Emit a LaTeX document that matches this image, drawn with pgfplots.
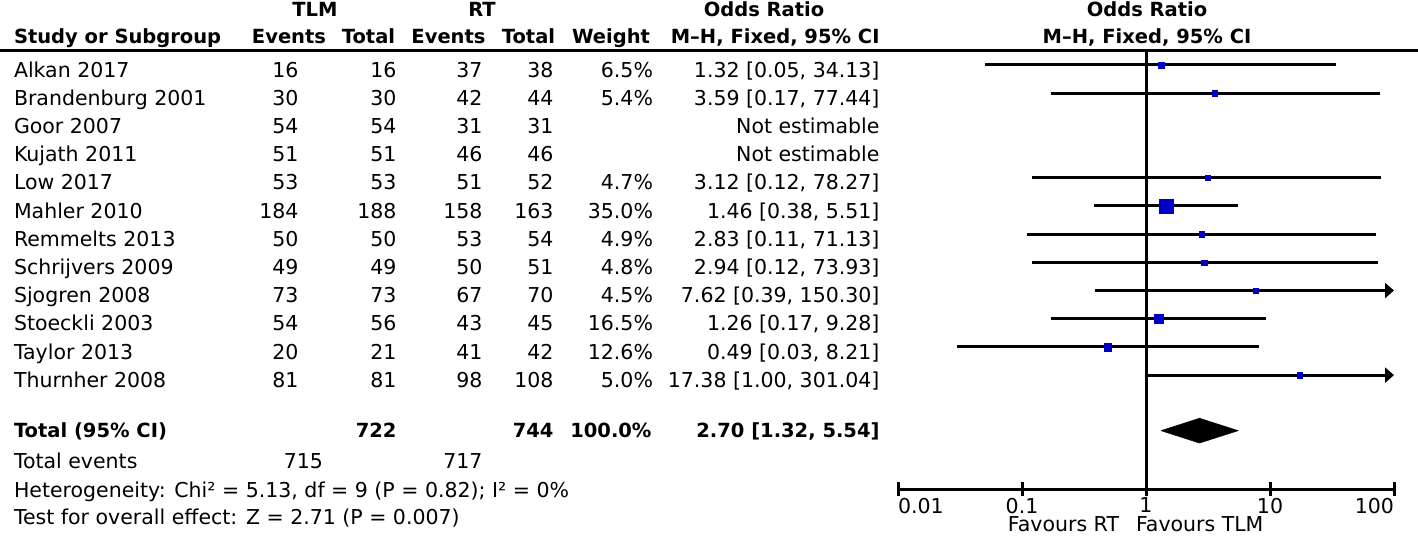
\documentclass[border=0pt]{standalone}
\usepackage{fontspec}
\setmainfont{DejaVu Sans}
\usepackage{pgfplots}
\pgfplotsset{compat=1.18}
\usepackage{pgfplotstable}
\usetikzlibrary{arrows.meta}

\definecolor{sqblue}{RGB}{0,0,200}

% study squares: odds ratio, row, half side of the square
\pgfplotstableread{
or    row  ms
1.32  1    2.9
3.59  2    2.7
3.12  5    2.5
1.46  6    6.85
2.83  7    2.6
2.94  8    2.6
7.62  9    2.5
1.26  10   4.4
0.49  11   3.8
17.38 12   2.6
}\squares

% one line of the table: baseline, study, TLM events, TLM total, RT events, RT total, weight, OR [CI]
\newcommand{\studyrow}[8]{%
  \node[anchor=base west] at (14,#1) {#2};
  \node[anchor=base east] at (298.5,#1) {#3};
  \node[anchor=base east] at (396.5,#1) {#4};
  \node[anchor=base east] at (482.5,#1) {#5};
  \node[anchor=base east] at (553.5,#1) {#6};
  \node[anchor=base east] at (653,#1) {#7};
  \node[anchor=base east] at (879.5,#1) {#8};
}

\begin{document}
\begin{tikzpicture}[x=1pt, y=-1pt, font=\fontsize{20.5}{24}\selectfont,
    every node/.append style={inner sep=0pt, outer sep=0pt}]
\path[use as bounding box] (0,0) rectangle (1418,536);

\begin{axis}[
    at={(898pt,-489pt)}, anchor=south west,
    scale only axis, width=496pt, height=438.5pt,
    xmode=log, xmin=0.01, xmax=100,
    ymin=-16.04, ymax=-0.486,
    axis x line=bottom, axis y line=none,
    axis line style={-, line width=3pt},
    xtick={0.01,0.1,1,10,100},
    xticklabels={\rlap{0.01},0.1,1,10,\llap{100}},
    xminorticks=false,
    tick align=center, major tick length=14pt,
    tick style={line width=3pt, black},
    xticklabel style={anchor=north, yshift=-2pt},
    clip=false,
    ci/.style={black, line width=3pt},
    ciarrow/.style={ci, -{Triangle[length=9pt,width=15pt]}},
  ]
  % line of no effect
  \addplot[black, line width=3pt] coordinates {(1,-0.486) (1,-16.04)};
  % confidence intervals
  \addplot[ci] coordinates {(0.05,-1) (34.13,-1)};
  \addplot[ci] coordinates {(0.17,-2) (77.44,-2)};
  \addplot[ci] coordinates {(0.12,-5) (78.27,-5)};
  \addplot[ci] coordinates {(0.38,-6) (5.51,-6)};
  \addplot[ci] coordinates {(0.11,-7) (71.13,-7)};
  \addplot[ci] coordinates {(0.12,-8) (73.93,-8)};
  % upper limits 150.30 and 301.04 run off the scale
  \addplot[ciarrow] coordinates {(0.39,-9) (100,-9)};
  \addplot[ci] coordinates {(0.17,-10) (9.28,-10)};
  \addplot[ci] coordinates {(0.03,-11) (8.21,-11)};
  \addplot[ciarrow] coordinates {(1.00,-12) (100,-12)};
  % study estimates, sized by weight
  \addplot[scatter, only marks, mark=square*,
    scatter/use mapped color={draw=sqblue, fill=sqblue},
    mark options={line width=0.3pt},
    visualization depends on={\thisrow{ms} \as \msize},
    scatter/@pre marker code/.append style={/tikz/mark size=\msize}]
    table[x=or, y expr=-\thisrow{row}] {\squares};
  % pooled estimate 2.70 [1.32, 5.54]
  \addplot[black, fill=black, line width=0.5pt] coordinates {(1.32,-13.97) (2.70,-13.53) (5.54,-13.97) (2.70,-14.41) (1.32,-13.97)};
\end{axis}

% header
\draw[line width=3pt] (0,50.5) -- (1418,50.5);
\begin{scope}[font=\fontsize{19.5}{23}\selectfont\bfseries]
  \node[anchor=base] at (315,16) {TLM};
  \node[anchor=base] at (482,16) {RT};
  \node[anchor=base] at (764,16) {Odds Ratio};
  \node[anchor=base] at (1147,16) {Odds Ratio};
  \node[anchor=base west] at (14,43) {Study or Subgroup};
  \node[anchor=base] at (289,43) {Events};
  \node[anchor=base] at (368.5,43) {Total};
  \node[anchor=base] at (448.5,43) {Events};
  \node[anchor=base] at (528.5,43) {Total};
  \node[anchor=base] at (611,43) {Weight};
  \node[anchor=base east] at (879.5,43) {M–H, Fixed, 95\% CI};
  \node[anchor=base] at (1147,43) {M–H, Fixed, 95\% CI};
\end{scope}

\studyrow{77}{Alkan 2017}{16}{16}{37}{38}{6.5\%}{1.32 [0.05, 34.13]}
\studyrow{105.2}{Brandenburg 2001}{30}{30}{42}{44}{5.4\%}{3.59 [0.17, 77.44]}
\studyrow{133.4}{Goor 2007}{54}{54}{31}{31}{}{Not estimable}
\studyrow{161.6}{Kujath 2011}{51}{51}{46}{46}{}{Not estimable}
\studyrow{189.8}{Low 2017}{53}{53}{51}{52}{4.7\%}{3.12 [0.12, 78.27]}
\studyrow{218}{Mahler 2010}{184}{188}{158}{163}{35.0\%}{1.46 [0.38, 5.51]}
\studyrow{246.2}{Remmelts 2013}{50}{50}{53}{54}{4.9\%}{2.83 [0.11, 71.13]}
\studyrow{274.4}{Schrijvers 2009}{49}{49}{50}{51}{4.8\%}{2.94 [0.12, 73.93]}
\studyrow{302.6}{Sjogren 2008}{73}{73}{67}{70}{4.5\%}{7.62 [0.39, 150.30]}
\studyrow{330.8}{Stoeckli 2003}{54}{56}{43}{45}{16.5\%}{1.26 [0.17, 9.28]}
\studyrow{359}{Taylor 2013}{20}{21}{41}{42}{12.6\%}{0.49 [0.03, 8.21]}
\studyrow{387.2}{Thurnher 2008}{81}{81}{98}{108}{5.0\%}{17.38 [1.00, 301.04]}

% totals
\begin{scope}[font=\fontsize{19.5}{23}\selectfont\bfseries]
  \node[anchor=base west] at (14,437) {Total (95\% CI)};
  \node[anchor=base east] at (396.5,437) {722};
  \node[anchor=base east] at (553.5,437) {744};
  \node[anchor=base east] at (651.5,437) {100.0\%};
  \node[anchor=base east] at (879.5,437) {2.70 [1.32, 5.54]};
\end{scope}
\node[anchor=base west] at (14,468) {Total events};
\node[anchor=base east] at (323,468) {715};
\node[anchor=base east] at (482.5,468) {717};
\node[anchor=base west] at (14,497) {Heterogeneity: Chi² = 5.13, df = 9 (P = 0.82); I² = 0\%};
\node[anchor=base west] at (14,524) {Test for overall effect: Z = 2.71 (P = 0.007)};

\node[anchor=base east] at (1119,531) {Favours RT};
\node[anchor=base west] at (1136,531) {Favours TLM};
\end{tikzpicture}
\end{document}
